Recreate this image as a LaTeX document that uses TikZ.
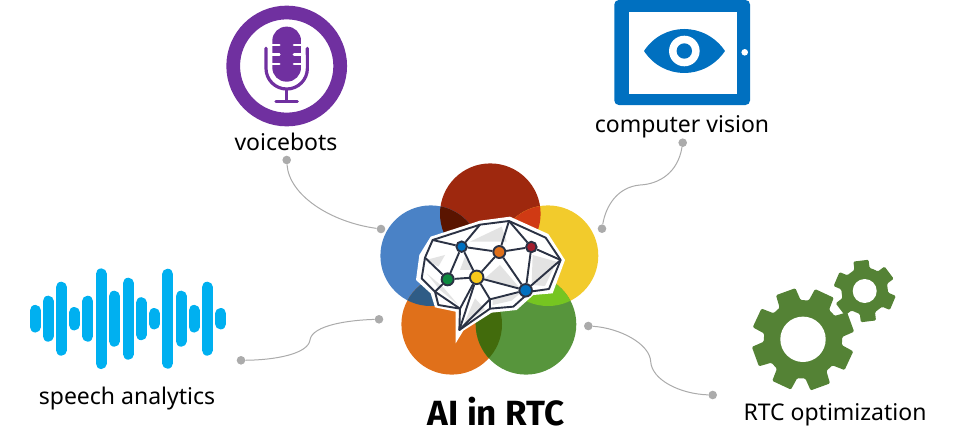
\documentclass[tikz,border=0pt]{standalone}
\usepackage{fontspec}
\setmainfont{Noto Sans}
\newfontfamily\titlefont{Fira Sans}
\definecolor{petalred}{HTML}{9E280E}
\definecolor{petalblue}{HTML}{4A82C6}
\definecolor{petalyellow}{HTML}{F2CB2C}
\definecolor{petalorange}{HTML}{E0701A}
\definecolor{petalgreen}{HTML}{57953C}
\definecolor{mixdark}{HTML}{5A1400}
\definecolor{mixember}{HTML}{D03A14}
\definecolor{mixslate}{HTML}{2F5C86}
\definecolor{mixlime}{HTML}{76C521}
\definecolor{mixmoss}{HTML}{426B0C}
\definecolor{micpurple}{HTML}{7030A0}
\definecolor{tabletblue}{HTML}{0070C0}
\definecolor{wavecyan}{HTML}{00B0F0}
\definecolor{gearolive}{HTML}{548235}
\definecolor{dotgray}{HTML}{ABABAB}
\definecolor{brainink}{HTML}{2B3244}
\definecolor{facetgray}{HTML}{E3E3E3}
\definecolor{hubred}{HTML}{A31D2E}
\definecolor{hubgreen}{HTML}{0E8A3F}
\definecolor{hubyellow}{HTML}{F8C91A}
\tikzset{
    petal/.style={
           circle,
           inner sep=0pt,
           outer sep=0pt,
           minimum size=100.6pt,
           },
    caption/.style={
           font=\fontsize{23}{27}\selectfont,
           text=black,
           inner sep=0pt,
           },
    enddot/.style={
           circle,
           fill=dotgray,
           inner sep=0pt,
           minimum size=8.6pt,
           },
    link/.style={
           draw=dotgray,
           line width=1pt,
           },
    brainline/.style={
           draw=brainink,
           line width=1.9pt,
           line join=round,
           },
    hub/.style={
           circle,
           draw=brainink,
           line width=1.9pt,
           inner sep=0pt,
           minimum size=#1,
           },
    hub/.default=10.5pt,
    wavebar/.style={
           draw=wavecyan,
           line width=11pt,
           line cap=round,
           },
}
\newcommand{\gearwheel}[8]{
  \begin{scope}[shift={(#1,#2)},x=1pt,y=1pt]
    \fill[gearolive,rounded corners=1.2pt] ({#7+180/#5}:#4)
      \foreach \a in {1,...,#5} {
        -- ({#7+\a*360/#5-#6-5}:#4)
        -- ({#7+\a*360/#5-#6}:#3)
        -- ({#7+\a*360/#5+#6}:#3)
        -- ({#7+\a*360/#5+#6+5}:#4)
      } -- cycle;
    \fill[white] (0,0) circle[radius=#8];
  \end{scope}
}
\begin{document}
\begin{tikzpicture}[x=1pt,y=-1pt]
      \useasboundingbox (0,0) rectangle (974,447);
      \node[petal, fill=petalred]    (red)    at (490.3,213.7) {};
      \node[petal, fill=petalblue]   (blue)   at (430.7,255.7) {};
      \node[petal, fill=petalyellow] (yellow) at (548.0,255.7) {};
      \node[petal, fill=petalorange] (orange) at (451.7,324.3) {};
      \node[petal, fill=petalgreen]  (green)  at (526.0,324.3) {};
      \foreach \ca/\cb/\mix in {red/blue/mixdark, red/yellow/mixember, blue/orange/mixslate, yellow/green/mixlime, orange/green/mixmoss} {
        \begin{scope}
          \clip (\ca.center) circle[radius=50.3pt];
          \fill[\mix] (\cb.center) circle[radius=50.3pt];
        \end{scope}
      }
      \begin{scope}[shift={(410,210)},x=0.3333pt,y=-0.3333pt]
        \fill[white] (62,80) -- (210,32) -- (300,20) -- (415,72) -- (465,150) -- (428,250) -- (370,255)
          -- (320,300) -- (245,308) -- (160,362) -- (137,400) -- (137,305) -- (75,292) -- (62,250)
          -- (18,210) -- (28,135) -- cycle;
        \fill[facetgray] (180,95) -- (275,50) -- (290,95) -- cycle;
        \fill[facetgray] (48,150) -- (105,135) -- (85,170) -- cycle;
        \fill[facetgray] (150,180) -- (165,140) -- (190,180) -- cycle;
        \fill[facetgray] (50,190) -- (100,232) -- (145,285) -- (90,240) -- cycle;
        \fill[facetgray] (225,205) -- (270,165) -- (330,235) -- cycle;
        \fill[facetgray] (368,135) -- (440,155) -- (405,228) -- (365,225) -- cycle;
        \fill[facetgray] (160,345) -- (195,265) -- (225,298) -- cycle;
        \fill[facetgray] (248,268) -- (330,250) -- (305,272) -- (248,285) -- cycle;
        \coordinate (o1) at (68,90);
        \coordinate (o2) at (210,44);
        \coordinate (o3) at (297,33);
        \coordinate (o4) at (407,83);
        \coordinate (o5) at (452,150);
        \coordinate (o6) at (417,237);
        \coordinate (o7) at (360,245);
        \coordinate (o8) at (310,290);
        \coordinate (o9) at (240,296);
        \coordinate (o10) at (148,360);
        \coordinate (o11) at (150,296);
        \coordinate (o12) at (85,285);
        \coordinate (o13) at (75,245);
        \coordinate (o14) at (35,205);
        \coordinate (o15) at (45,143);
        \coordinate (m1) at (240,268);
        \draw[brainline] (o1) -- (o2) -- (o3) -- (o4) -- (o5) -- (o6) -- (o7) -- (o8) -- (o9) -- (o10)
          -- (o11) -- (o12) -- (o13) -- (o14) -- (o15) -- cycle;
        \node[hub, fill=tabletblue]        (na) at (155,110) {};
        \node[hub=12pt, fill=petalorange]  (nb) at (268,126) {};
        \node[hub, fill=hubred]            (nc) at (364,111) {};
        \node[hub=12pt, fill=hubgreen]     (nd) at (113,208) {};
        \node[hub=13.5pt, fill=hubyellow]  (ne) at (200,202) {};
        \node[hub=12.5pt, fill=tabletblue] (nf) at (347,241) {};
        \foreach \p/\q in {o1/na, o2/na, na/nb, o3/nb, o3/nc, nb/nc, nc/o5, na/ne, na/nd, nd/ne, nb/ne,
          nb/nf, ne/nf, nc/nf, nf/o5, o15/nd, nd/o13, ne/o10, ne/m1, ne/o11, m1/nf, m1/o9, m1/o10, o13/o11}
          \draw[brainline] (\p) -- (\q);
      \end{scope}
      \draw[micpurple, line width=13.7pt] (286.7,66) circle[radius=53.5pt];
      \begin{scope}[shift={(210,0)},x=0.3333pt,y=-0.3333pt]
        \fill[micpurple, rounded corners=14pt] (187,80) rectangle (273,245);
        \foreach \yy in {135,163,192} {
          \draw[white, line width=2.6pt, line cap=round] (182,\yy) -- (208,\yy);
          \draw[white, line width=2.6pt, line cap=round] (252,\yy) -- (278,\yy);
        }
        \draw[micpurple, line width=3.2pt, line cap=round] (168,145) -- (168,205) arc[start angle=180, end angle=360, radius=20.7pt] -- (292,145);
        \draw[micpurple, line width=3.2pt] (230,267) -- (230,305);
        \draw[micpurple, line width=3.2pt, line cap=round] (198,305) -- (262,305);
      \end{scope}
      \fill[tabletblue, rounded corners=4.5pt] (614.3,0) rectangle (750,105);
      \fill[white] (629,11.7) rectangle (737.3,93.7);
      \fill[white] (744.7,52.3) circle[radius=3.3pt];
      \begin{scope}[shift={(600,0)},x=0.3333pt,y=-0.3333pt]
        \fill[tabletblue] (132,153) .. controls (190,65) and (315,65) .. (375,153) .. controls (315,241) and (190,241) .. (132,153) -- cycle;
        \fill[white] (253,153) circle[radius=15.3pt];
        \fill[tabletblue] (253,153) circle[radius=7.7pt];
      \end{scope}
      \foreach \x/\h in {35.3/8.3, 48/17.5, 61.3/31.5, 74.3/6.2, 87.7/17.5, 101/44.8, 114.3/22.5, 128.3/35.5,
        141.3/16, 154.3/5.2, 167.7/44.5, 181/22.5, 194/8.3, 207.3/31.5, 220.7/5.2}
        \draw[wavebar] (\x,{318.7-\h}) -- (\x,{318.7+\h});
      \gearwheel{803}{339.3}{51.7}{39.3}{8}{11.5}{20}{22.7pt}
      \gearwheel{864.7}{291}{31.5}{23.5}{6}{14}{37}{12pt}
      \node[caption] (voicebots) at (286,142) {voicebots};
      \node[caption] (vision)    at (682,127) {computer vision};
      \node[caption] (speech)    at (127,399) {speech analytics};
      \node[caption] (optim)     at (835,415) {RTC optimization};
      \node[caption, font=\fontsize{35}{39}\selectfont\titlefont\bfseries] (title) at (496,412) {AI in RTC};
      \node[enddot] (d1) at (286.7,160) {};
      \node[enddot] (d2) at (381,229) {};
      \node[enddot] (d3) at (682.7,142.7) {};
      \node[enddot] (d4) at (602,228.7) {};
      \node[enddot] (d5) at (379,319.3) {};
      \node[enddot] (d6) at (241,360.3) {};
      \node[enddot] (d7) at (588.3,326) {};
      \node[enddot] (d8) at (712.7,395) {};
      \draw[link] (d1) .. controls (289,195) and (330,222) .. (d2);
      \draw[link] (d3) .. controls (678,172) and (660,184) .. (640,185) .. controls (618,187) and (606,205) .. (d4);
      \draw[link] (d5) .. controls (350,320) and (312,325) .. (310,340) .. controls (308,354) and (275,360) .. (d6);
      \draw[link] (d7) .. controls (620,328) and (650,344) .. (650.7,361.7) .. controls (652,380) and (680,394) .. (d8);
\end{tikzpicture}
\end{document}
